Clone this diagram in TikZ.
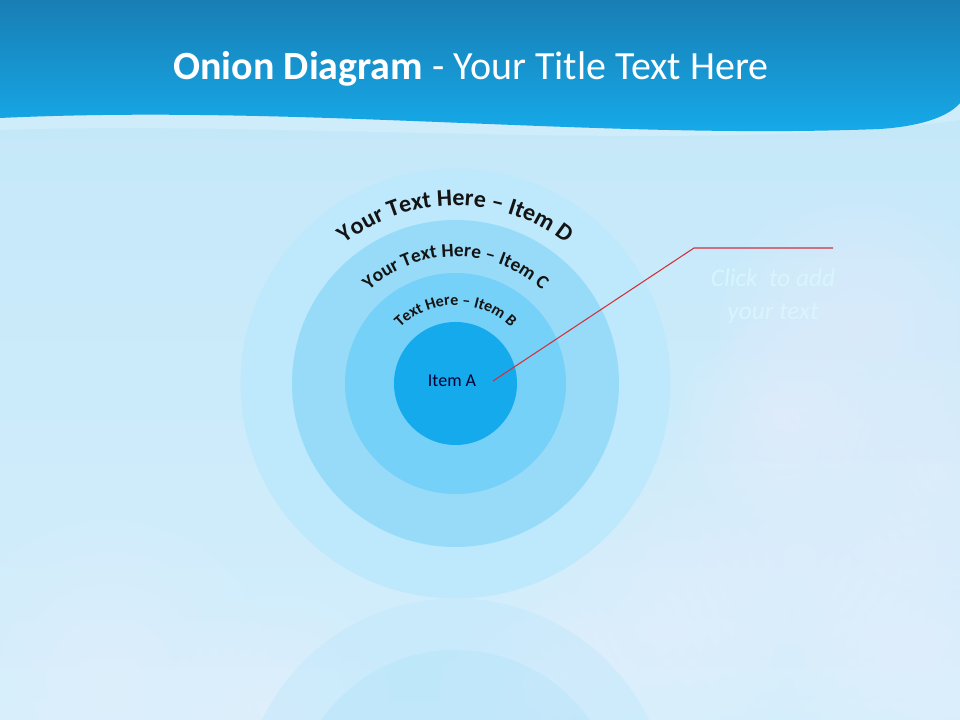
\documentclass[tikz,border=0pt]{standalone}
\usepackage{fontspec}
\setmainfont{Carlito}
\usetikzlibrary{positioning, decorations.text}

\definecolor{skyTop}{RGB}{194,231,249}
\definecolor{skyLow}{RGB}{212,238,251}
\definecolor{bannerTop}{RGB}{24,126,180}
\definecolor{bannerLow}{RGB}{22,172,236}
\definecolor{ringD}{RGB}{190,232,251}
\definecolor{ringC}{RGB}{152,219,249}
\definecolor{ringB}{RGB}{118,209,248}
\definecolor{ringA}{RGB}{20,170,235}
\definecolor{leader}{RGB}{210,48,58}
\definecolor{hintText}{RGB}{218,248,255}

\begin{document}
\begin{tikzpicture}[
    x=0.75pt, y=0.75pt,
    ring/.style={circle, inner sep=0pt, draw=none},
    arclabel/.style={decorate, decoration={text along path, text align=center, text color=black!92, text={#1}}},
    heading/.style={text=white, font=\fontsize{30}{35}\selectfont, anchor=base},
    itemlabel/.style={text=black!80!blue, font=\fontsize{13.5}{16}\selectfont},
    hint/.style={text=hintText, opacity=0.85, align=center, font=\itshape\fontsize{19}{24.75}\selectfont},
    leaderline/.style={draw=leader, line width=0.8pt},
    cloud/.style={white, opacity=0.045}
]
    % Page frame and sky
    \useasboundingbox (0,0) rectangle (960,720);
    \clip (0,0) rectangle (960,720);
    \shade[top color=skyTop, bottom color=skyLow] (0,0) rectangle (960,720);

    % Soft clouds: stacked translucent discs
    \foreach \cx/\cy/\r in {860/390/140, 780/300/100, 940/250/120, 800/160/170, 650/90/140,
                            930/70/140, 540/30/100, 110/40/160, 280/15/110}{
        \foreach \k in {1,...,10}
            \fill[cloud] (\cx,\cy) circle[radius=\r*\k/10];
    }

    % Banner with wavy lower edge
    \fill[white, opacity=0.18] (0,602) .. controls (300,616) and (600,580) .. (880,591)
        .. controls (925,594) and (950,605) .. (960,617) -- (960,600)
        .. controls (700,565) and (300,600) .. (0,590) -- cycle;
    \shade[top color=bannerTop, bottom color=bannerLow]
        (0,720) -- (0,602) .. controls (300,616) and (600,580) .. (880,591)
        .. controls (925,594) and (950,605) .. (960,617) -- (960,720) -- cycle;
    \node[heading] (title) at (471,640) {\textbf{Onion Diagram} - Your Title Text Here};

    % Reflection of the rings below the outer circle
    \begin{scope}
        \clip (0,0) rectangle (960,121.5);
        \fill[ringD, opacity=0.45] (455.5,-93.5) circle[radius=215];
        \fill[ringC, opacity=0.2] (455.5,-93.5) circle[radius=163.5];
    \end{scope}

    % Onion rings, outer to inner
    \node[ring, fill=ringD, minimum size=322.5pt] (D) at (455.5,336.5) {};
    \node[ring, fill=ringC, minimum size=245.25pt] (C) at (D.center) {};
    \node[ring, fill=ringB, minimum size=165.75pt] (B) at (D.center) {};
    \node[ring, fill=ringA, minimum size=92.25pt] (A) at (D.center) {};
    \node[itemlabel] (itemA) at (452,339) {Item A};

    % Curved ring labels
    \path[arclabel={|\bfseries\fontsize{18}{21}\selectfont|Your Text Here – Item D}]
        ([shift={(130:178)}]D.center) arc[start angle=130, end angle=50, radius=178];
    \path[arclabel={|\bfseries\fontsize{14.5}{17}\selectfont|Your Text Here – Item C}]
        ([shift={(135:127)}]D.center) arc[start angle=135, end angle=45, radius=127];
    \path[arclabel={|\bfseries\fontsize{12}{14}\selectfont|Text Here – Item B}]
        ([shift={(140:78.5)}]D.center) arc[start angle=140, end angle=40, radius=78.5];

    % Leader line to the side text
    \coordinate (tip) at (493,339);
    \coordinate (elbow) at (694,472);
    \coordinate (tail) at (833,472);
    \draw[leaderline] (tip) -- (elbow) -- (tail);
    \node[hint] (note) at (773,424) {Click\ \ to add\\your text};
\end{tikzpicture}
\end{document}
